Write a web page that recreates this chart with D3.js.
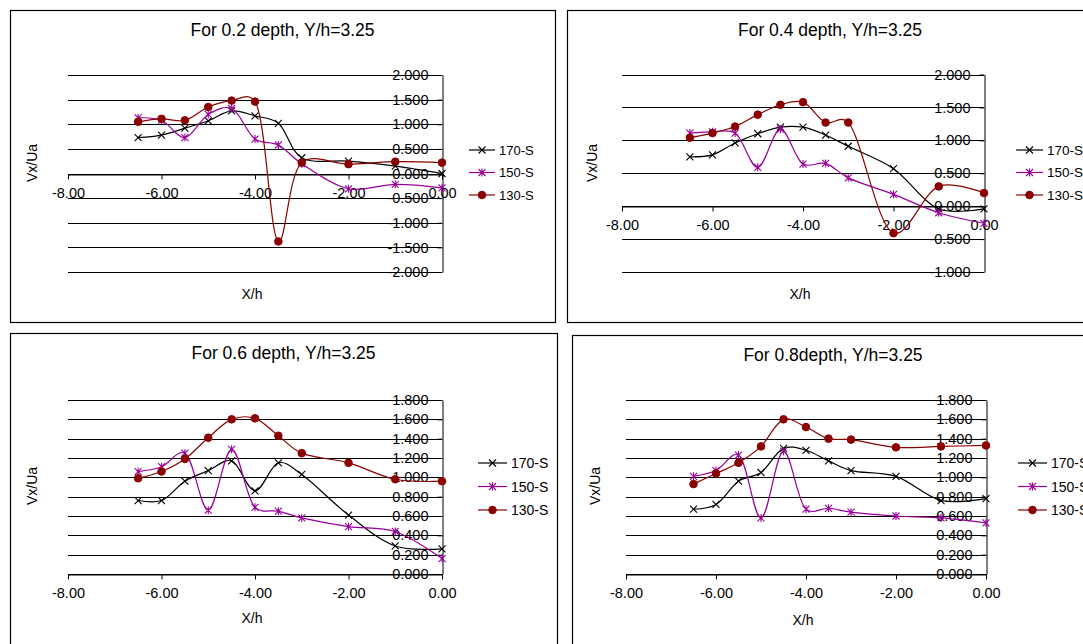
<!DOCTYPE html>
<html>
<head>
<meta charset="utf-8">
<script src="https://cdn.jsdelivr.net/npm/d3@7"></script>
<style>
  body { margin: 0; background: #fff; }
  text { font-family: "Liberation Sans", Arial, sans-serif; fill: #000; }
</style>
</head>
<body>
<svg id="chart" width="1083" height="644"></svg>
<script>
// X/h stations, same for every panel
var xh = [-6.5, -6, -5.5, -5, -4.5, -4, -3.5, -3, -2, -1, 0];
var seriesNames = ["170-S", "150-S", "130-S"];
var xTicks = [-8, -6, -4, -2, 0];

// Vx/Ua
var d02_170 = [0.73, 0.78, 0.92, 1.07, 1.27, 1.17, 1.02, 0.32, 0.25, 0.15, 0.00];
var d02_150 = [1.13, 1.08, 0.73, 1.20, 1.32, 0.70, 0.58, 0.20, -0.31, -0.22, -0.29];
var d02_130 = [1.05, 1.11, 1.08, 1.35, 1.48, 1.46, -1.38, 0.22, 0.19, 0.24, 0.22];

var d04_170 = [0.75, 0.78, 0.96, 1.10, 1.20, 1.20, 1.08, 0.91, 0.57, -0.04, -0.04];
var d04_150 = [1.11, 1.13, 1.11, 0.59, 1.17, 0.64, 0.65, 0.43, 0.18, -0.10, -0.26];
var d04_130 = [1.04, 1.11, 1.21, 1.39, 1.54, 1.58, 1.27, 1.27, -0.41, 0.30, 0.20];

var d06_170 = [0.76, 0.76, 0.96, 1.07, 1.17, 0.86, 1.15, 1.03, 0.61, 0.29, 0.26];
var d06_150 = [1.06, 1.11, 1.25, 0.66, 1.29, 0.69, 0.65, 0.58, 0.49, 0.44, 0.16];
var d06_130 = [0.99, 1.06, 1.19, 1.41, 1.60, 1.61, 1.43, 1.25, 1.15, 0.98, 0.96];

var d08_170 = [0.67, 0.72, 0.96, 1.05, 1.30, 1.28, 1.17, 1.07, 1.01, 0.76, 0.78];
var d08_150 = [1.01, 1.07, 1.23, 0.58, 1.27, 0.67, 0.68, 0.64, 0.60, 0.58, 0.53];
var d08_130 = [0.93, 1.04, 1.15, 1.32, 1.60, 1.52, 1.40, 1.39, 1.31, 1.32, 1.33];

var yTicksA = [-2, -1.5, -1, -0.5, 0, 0.5, 1, 1.5, 2];
var yTicksB = [-1, -0.5, 0, 0.5, 1, 1.5, 2];
var yTicksC = [0, 0.2, 0.4, 0.6, 0.8, 1, 1.2, 1.4, 1.6, 1.8];

var colors = ["#000000", "#990099", "#8b0000"];

var panels = [
  { title: "For 0.2 depth, Y/h=3.25", data: [d02_170, d02_150, d02_130],
    frame: [10, 10, 545, 312], xr: [68, 442], yd: [-2, 2], yr: [272, 75], yTicks: yTicksA,
    legend: [469, 150, 13, 22.5, 26], xTitleY: 299, yTitle: [32, 163] },
  { title: "For 0.4 depth, Y/h=3.25", data: [d04_170, d04_150, d04_130],
    frame: [567, 10, 526, 312], xr: [622, 984], yd: [-1, 2], yr: [272, 74.5], yTicks: yTicksB,
    legend: [1016, 150, 13.5, 22.5, 27], xTitleY: 299, yTitle: [592, 163] },
  { title: "For 0.6 depth, Y/h=3.25", data: [d06_170, d06_150, d06_130],
    frame: [10, 333, 547, 330], xr: [68, 442], yd: [0, 1.8], yr: [574, 400], yTicks: yTicksC,
    legend: [478, 463, 14, 23.5, 29], xTitleY: 623, yTitle: [32, 486] },
  { title: "For 0.8depth, Y/h=3.25", data: [d08_170, d08_150, d08_130],
    frame: [572, 335, 522, 330], xr: [626, 986], yd: [0, 1.8], yr: [574, 400], yTicks: yTicksC,
    legend: [1018, 463, 14, 23.5, 29], xTitleY: 625, yTitle: [595, 486] }
];

var svg = d3.select("#chart");

// plain hyphen for negatives, like the spreadsheet
function fmt(p) {
  var f = d3.format("." + p + "f");
  return function (d) { return f(d).replace("\u2212", "-"); };
}

// marker painters
function drawMarker(g, k, color) {
  if (k === 2) {
    g.append("circle").attr("r", 3.8).attr("fill", color).attr("stroke", color);
  } else {
    var s = 3.5;
    var p = "M" + (-s) + "," + (-s) + "L" + s + "," + s + "M" + (-s) + "," + s + "L" + s + "," + (-s);
    if (k === 1) p += "M0," + (-s - 0.5) + "L0," + (s + 0.5);
    g.append("path").attr("d", p).attr("stroke", color).attr("stroke-width", 1.1).attr("fill", "none");
  }
}

panels.forEach(function (pn) {
  var f = pn.frame;
  svg.append("rect")
    .attr("x", f[0] + 0.5).attr("y", f[1] + 0.5)
    .attr("width", f[2]).attr("height", f[3])
    .attr("fill", "#fff").attr("stroke", "#000").attr("stroke-width", 1.2);

  var x = d3.scaleLinear().domain([-8, 0]).range(pn.xr);
  var y = d3.scaleLinear().domain(pn.yd).range(pn.yr);
  var g = svg.append("g");

  // gridlines
  g.selectAll(".grid").data(pn.yTicks).enter().append("line")
    .attr("x1", x(-8)).attr("x2", x(0))
    .attr("y1", function (d) { return Math.round(y(d)) + 0.5; })
    .attr("y2", function (d) { return Math.round(y(d)) + 0.5; })
    .attr("stroke", "#000").attr("stroke-width", 1);

  // y axis sits at X/h = 0
  var yAxis = g.append("g")
    .attr("transform", "translate(" + (Math.round(x(0)) + 0.5) + ",0)")
    .call(d3.axisLeft(y).tickValues(pn.yTicks).tickFormat(fmt(3))
      .tickSizeInner(5).tickSizeOuter(0).tickPadding(9));
  yAxis.selectAll("text").attr("font-size", 14.5).style("font-family", "Liberation Sans, Arial, sans-serif");

  // x axis sits at Vx/Ua = 0
  var xAxis = g.append("g")
    .attr("transform", "translate(0," + (Math.round(y(0)) + 0.5) + ")")
    .call(d3.axisBottom(x).tickValues(xTicks).tickFormat(fmt(2))
      .tickSizeInner(5).tickSizeOuter(0).tickPadding(8));
  xAxis.selectAll("text").attr("font-size", 14.5).style("font-family", "Liberation Sans, Arial, sans-serif");
  g.selectAll(".domain, .tick line").attr("stroke", "#000");

  // series
  var line = d3.line()
    .x(function (d, i) { return x(xh[i]); })
    .y(function (d) { return y(d); })
    .curve(d3.curveCatmullRom.alpha(0.3));

  pn.data.forEach(function (vals, k) {
    g.append("path").datum(vals)
      .attr("d", line)
      .attr("fill", "none")
      .attr("stroke", colors[k])
      .attr("stroke-width", 1.2);
    vals.forEach(function (v, i) {
      var m = g.append("g").attr("transform", "translate(" + x(xh[i]) + "," + y(v) + ")");
      drawMarker(m, k, colors[k]);
    });
  });

  // legend
  var lg = pn.legend;
  seriesNames.forEach(function (name, k) {
    var ly = lg[1] + k * lg[3];
    var lx = lg[0];
    g.append("line").attr("x1", lx).attr("x2", lx + lg[4]).attr("y1", ly).attr("y2", ly)
      .attr("stroke", colors[k]).attr("stroke-width", 1.2);
    var m = g.append("g").attr("transform", "translate(" + (lx + lg[4] / 2) + "," + ly + ")");
    drawMarker(m, k, colors[k]);
    g.append("text").attr("x", lx + lg[4] + 4).attr("y", ly).attr("dy", "0.36em")
      .attr("font-size", lg[2]).text(name);
  });

  // titles
  g.append("text").attr("x", f[0] + f[2] / 2).attr("y", f[1] + 26)
    .attr("text-anchor", "middle").attr("font-size", 17.5).text(pn.title);
  g.append("text").attr("x", (pn.xr[0] + pn.xr[1]) / 2 - 3).attr("y", pn.xTitleY)
    .attr("text-anchor", "middle").attr("font-size", 14).text("X/h");
  g.append("text")
    .attr("transform", "translate(" + (pn.yTitle[0] + 5) + "," + pn.yTitle[1] + ") rotate(-90)")
    .attr("text-anchor", "middle").attr("font-size", 14).text("Vx/Ua");
});
</script>
</body>
</html>
